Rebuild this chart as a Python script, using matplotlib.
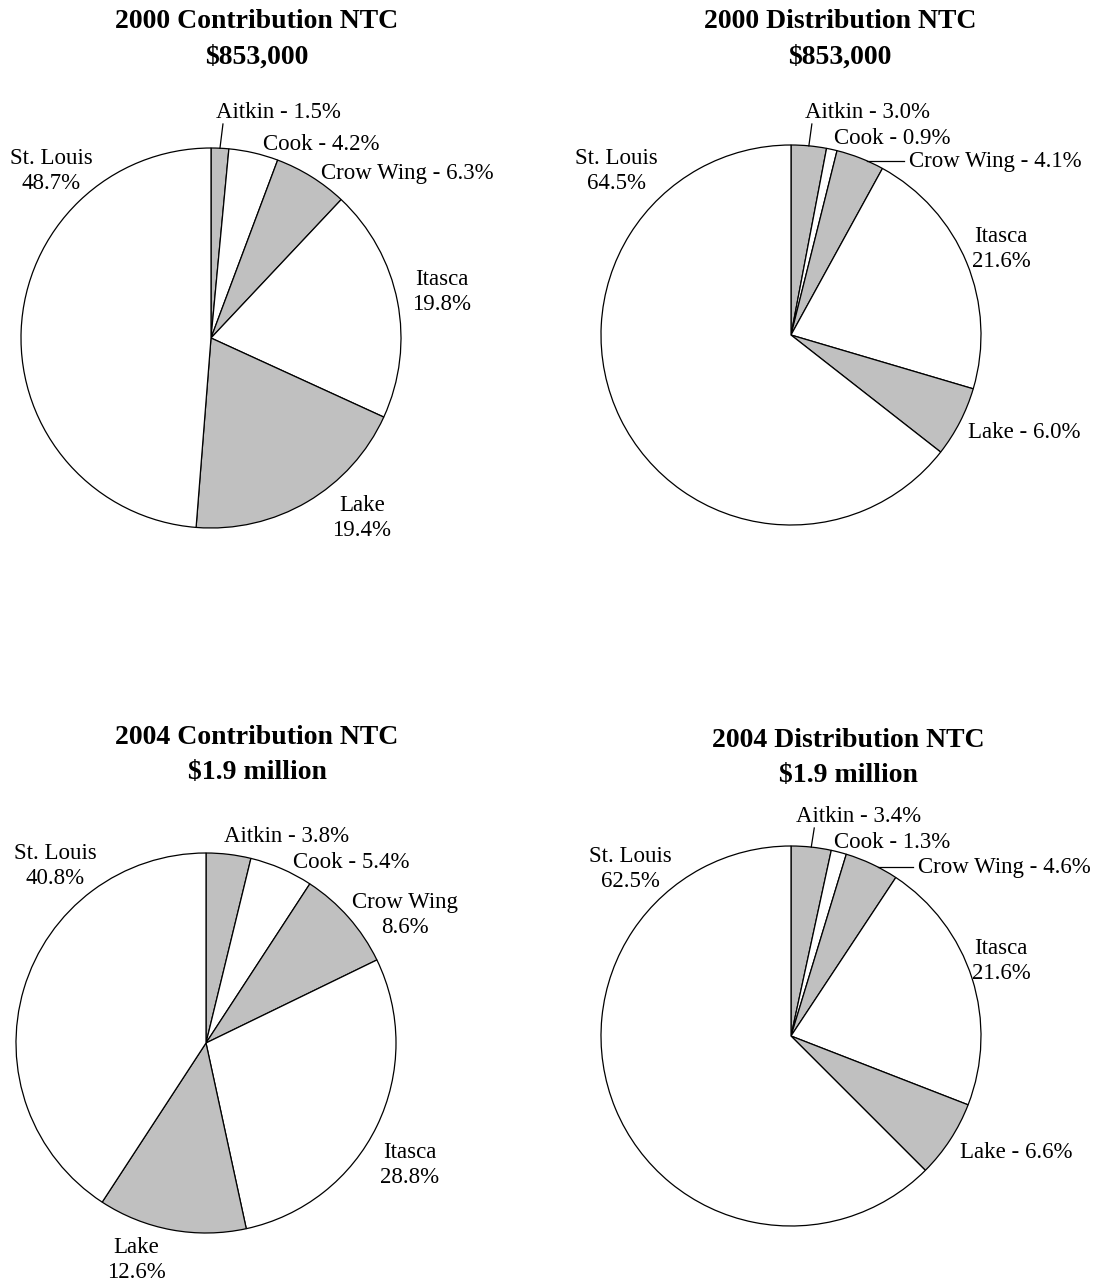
import numpy as np
import matplotlib
matplotlib.use("Agg")
import matplotlib.pyplot as plt

plt.rcParams['font.family'] = ['Liberation Serif', 'DejaVu Serif']

counties = ["Aitkin", "Cook", "Crow Wing", "Itasca", "Lake", "St. Louis"]
contrib_2000 = [1.5, 4.2, 6.3, 19.8, 19.4, 48.7]
distrib_2000 = [3.0, 0.9, 4.1, 21.6, 6.0, 64.5]
contrib_2004 = [3.8, 5.4, 8.6, 28.8, 12.6, 40.8]
distrib_2004 = [3.4, 1.3, 4.6, 21.6, 6.6, 62.5]

titles = ["2000 Contribution NTC\n$853,000",
          "2000 Distribution NTC\n$853,000",
          "2004 Contribution NTC\n$1.9 million",
          "2004 Distribution NTC\n$1.9 million"]
datasets = [contrib_2000, distrib_2000, contrib_2004, distrib_2004]

GRAY = "#c0c0c0"
colors = [GRAY, "white", GRAY, "white", GRAY, "white"]

W, H = 1096, 1285
fig = plt.figure(figsize=(W / 100, H / 100), dpi=100)
ax = fig.add_axes([0, 0, 1, 1])

# layout (pixel coordinates)
centers = [(211, 338), (791, 335), (206, 1043), (791, 1036)]
R = 190
title_pos = [(257, 39), (840, 39), (257, 755), (848, 758)]

# label layout per pie: (index, x, y, ha, leader)
label_layout = [
    [(0, 216, 113, 'left', 'mid'), (1, 263, 145, 'left', None), (2, 321, 173, 'left', None),
     (3, 442, 292, 'center', None), (4, 362, 518, 'center', None), (5, 51, 171, 'center', None)],
    [(0, 805, 113, 'left', 'mid'), (1, 834, 138, 'left', None), (2, 909, 161, 'left', 'horiz'),
     (3, 1001, 249, 'center', None), (4, 968, 433, 'left', None), (5, 616, 171, 'center', None)],
    [(0, 224, 837, 'left', None), (1, 293, 863, 'left', None), (2, 405, 915, 'center', None),
     (3, 410, 1165, 'center', None), (4, 136, 1260, 'center', None), (5, 55, 866, 'center', None)],
    [(0, 796, 817, 'left', 'mid'), (1, 834, 843, 'left', None), (2, 918, 867, 'left', 'horiz'),
     (3, 1001, 961, 'center', None), (4, 960, 1152, 'left', None), (5, 630, 869, 'center', None)],
]
two_line = {0: {3, 4, 5}, 1: {3, 5}, 2: {2, 3, 4, 5}, 3: {3, 5}}

LFS = 16.5
for k, (vals, (cx, cy), title, (tx, ty)) in enumerate(zip(datasets, centers, titles, title_pos)):
    ax.pie(vals, colors=colors, startangle=-90, counterclock=True,
           center=(cx, cy), radius=R,
           wedgeprops=dict(edgecolor="black", linewidth=0.9))
    ax.text(tx, ty, title, ha="center", va="center", fontsize=20,
            fontweight="bold", linespacing=1.55)
    cum = np.cumsum([0] + vals)
    tot = cum[-1]
    for (i, x, y, ha, leader) in label_layout[k]:
        if i in two_line[k]:
            txt = f"{counties[i]}\n{vals[i]:.1f}%"
        else:
            txt = f"{counties[i]} - {vals[i]:.1f}%"
        ax.text(x, y, txt, ha=ha, va="center", fontsize=LFS, linespacing=1.25)
        if leader == 'mid':
            ang = np.deg2rad((cum[i] + vals[i] / 2) / tot * 360)
            px, py = cx + R * np.sin(ang), cy - R * np.cos(ang)
            ax.plot([px, px + 3], [py, y + 11], color="black", lw=0.9)
        elif leader == 'horiz':
            dx = np.sqrt(R ** 2 - (y - cy) ** 2)
            ax.plot([cx + dx, x - 5], [y, y], color="black", lw=0.9)

ax.set_xlim(0, W)
ax.set_ylim(H, 0)
ax.set_aspect("equal")
ax.axis("off")
fig.savefig("out.png", dpi=100, facecolor="white")
